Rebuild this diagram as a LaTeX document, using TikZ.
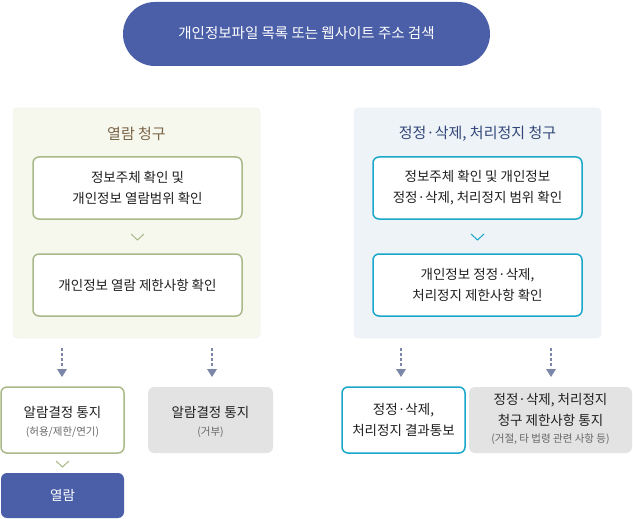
\documentclass[tikz,border=0pt]{standalone}
\usepackage{fontspec}
\setmainfont{Noto Sans CJK KR}
\usetikzlibrary{arrows.meta}
\definecolor{navy}{HTML}{4A5FA8}
\definecolor{grn}{HTML}{A9B98A}
\definecolor{cyn}{HTML}{1AA7C9}
\definecolor{gpanel}{HTML}{F6F8EE}
\definecolor{bpanel}{HTML}{EEF3F8}
\definecolor{gbox}{HTML}{E3E3E3}
\definecolor{arr}{HTML}{7C86A8}
\begin{document}
\begin{tikzpicture}[x=1pt,y=-1pt,
 box/.style={rounded corners=6pt,line width=1.5pt,fill=white},
 gb/.style={rounded corners=6pt,fill=gbox,draw=none},
 txt/.style={align=center,font=\fontsize{13.5}{21}\selectfont,text=black!88},
 sub/.style={font=\fontsize{10.5}{12}\selectfont,text=black!60},
 dot/.style={arr,line width=1.2pt,dash pattern=on 2.5pt off 2.5pt},
 tip/.style={fill=arr,draw=none},
 chev/.style={line width=1pt}]
\fill[white] (0,0) rectangle (633,519);
% top
\draw[fill=navy,draw=none,rounded corners=32pt] (123,2) rectangle (490,66);
\node[text=white,font=\fontsize{14.5}{17}\selectfont] (top) at (306.5,33) {개인정보파일 목록 또는 웹사이트 주소 검색};
% panels
\draw[fill=gpanel,draw=black!6,rounded corners=4pt] (13,108) rectangle (260,338);
\draw[fill=bpanel,draw=black!6,rounded corners=4pt] (354,108) rectangle (601,338);
\node[text={rgb,255:red,122;green,100;blue,70},font=\fontsize{15}{18}\selectfont] (lt) at (136.5,134) {열람 청구};
\node[text={rgb,255:red,50;green,70;blue,120},font=\fontsize{15}{18}\selectfont] (rt) at (477.5,134) {정정·삭제, 처리정지 청구};
\draw[box,draw=grn] (33,157) rectangle (242,219);
\node[txt] (b1) at (137.5,188) {정보주체 확인 및\\개인정보 열람범위 확인};
\draw[chev,grn] (131,234) -- (137.5,240) -- (144,234);
\draw[box,draw=grn] (33,254) rectangle (242,316);
\node[txt] (b2) at (137.5,285) {개인정보 열람 제한사항 확인};
\draw[box,draw=cyn] (373,157) rectangle (582,219);
\node[txt] (b3) at (477.5,188) {정보주체 확인 및 개인정보\\정정·삭제, 처리정지 범위 확인};
\draw[chev,cyn] (471,234) -- (477.5,240) -- (484,234);
\draw[box,draw=cyn] (373,254) rectangle (582,316);
\node[txt] (b4) at (477.5,285) {개인정보 정정·삭제,\\처리정지 제한사항 확인};
% dotted arrows
\foreach \x in {62,212,401,551}{
 \draw[dot] (\x,348) -- (\x,368);
 \fill[tip] (\x-5,369) -- (\x+5,369) -- (\x,377) -- cycle;}
% bottom
\draw[box,draw=grn] (1,387) rectangle (124,453);
\node[txt] (a1) at (62.5,412) {알람결정 통지};
\node[sub] (a1s) at (62.5,432) {(허용/제한/연기)};
\draw[gb] (148,387) rectangle (273,453);
\node[txt] (a2) at (210.5,412) {알람결정 통지};
\node[sub] (a2s) at (210.5,432) {(거부)};
\draw[box,draw=cyn] (342,387) rectangle (465,453);
\node[txt] (c1) at (403.5,420) {정정·삭제,\\처리정지 결과통보};
\draw[gb] (469,387) rectangle (632,453);
\node[txt] (c2) at (550.5,410) {정정·삭제, 처리정지\\청구 제한사항 통지};
\node[sub] (c2s) at (550.5,439) {(거절, 타 법령 관련 사항 등)};
\draw[chev,grn] (56,461) -- (62.5,467) -- (69,461);
\draw[fill=navy,draw=none,rounded corners=6pt] (1,473) rectangle (124,518);
\node[text=white,font=\fontsize{13.5}{16}\selectfont] (v) at (62.5,495.5) {열람};
\end{tikzpicture}
\end{document}
